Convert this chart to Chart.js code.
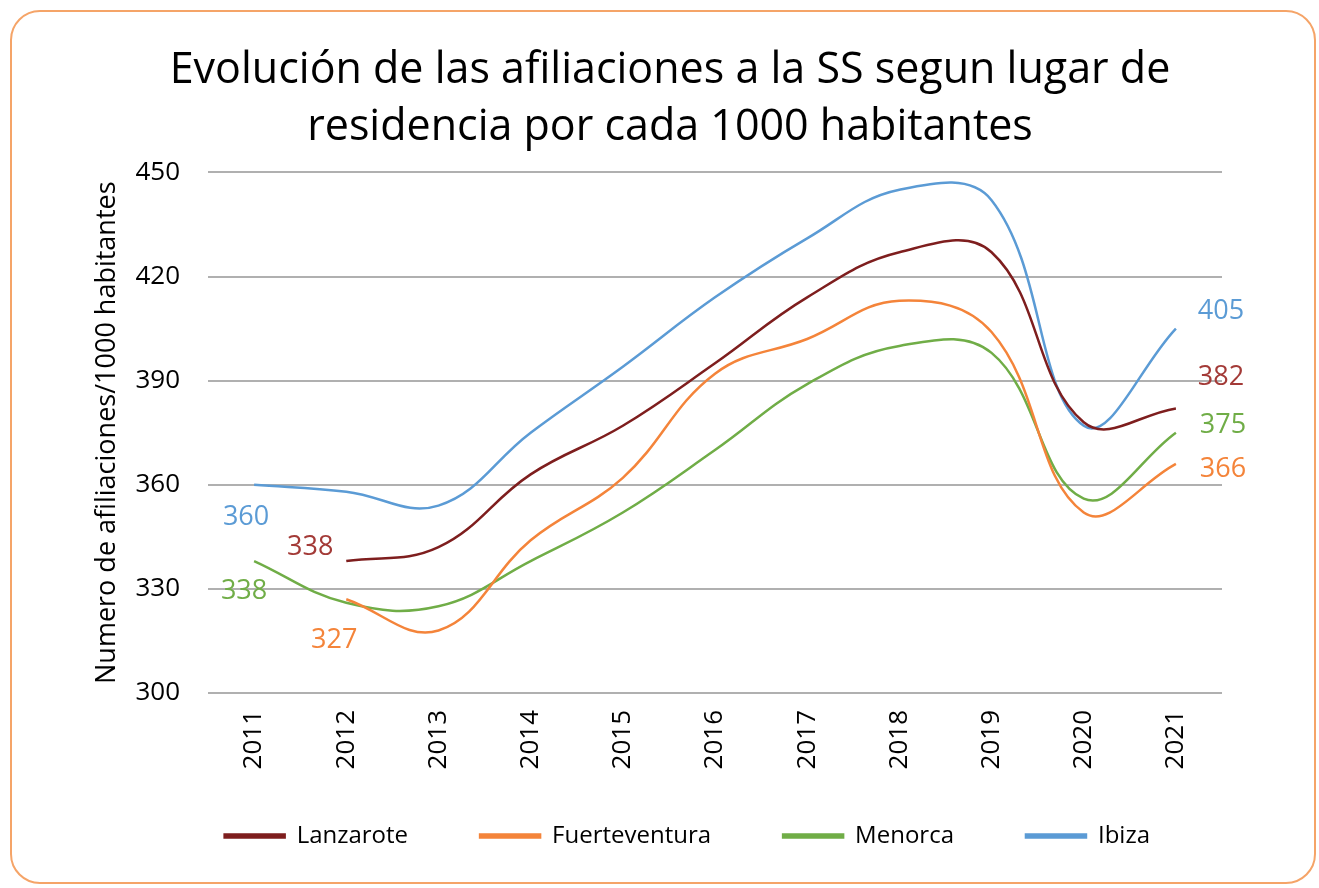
<!DOCTYPE html>
<html>
<head>
<meta charset="utf-8">
<script src="https://cdn.jsdelivr.net/npm/chart.js@4.4.0/dist/chart.umd.min.js"></script>
<style>
    html, body { margin: 0; padding: 0; background: #fff; }
    #frame {
        position: absolute; left: 10px; top: 10px; width: 1306px; height: 874px;
        box-sizing: border-box; border: 2px solid #f5a468; border-radius: 30px;
    }
    #wrap { position: absolute; left: 0; top: 0; width: 1319px; height: 888px; }
</style>
</head>
<body>
<div id="frame"></div>
<div id="wrap"><canvas id="chart" width="1319" height="888"></canvas></div>
<script>
const years = ['2011', '2012', '2013', '2014', '2015', '2016', '2017', '2018', '2019', '2020', '2021'];

const lanzarote = [null, 338, 342, 363, 377, 395, 414, 427, 427, 378, 382];
const fuerteventura = [null, 327, 318, 344, 362, 392, 402, 413, 404, 352, 366];
const menorca = [338, 326, 325, 338, 352, 370, 389, 400, 398, 356, 375];
const ibiza = [360, 358, 354, 375, 394, 414, 431, 445, 442, 377, 405];

const y_ticks = [300, 330, 360, 390, 420, 450];

const FONT = "'Open Sans', 'Noto Sans', sans-serif";

// first / last value labels, drawn next to the line ends
const valueLabels = {
    id: 'valueLabels',
    afterDatasetsDraw(chart, args, opts) {
        const ctx = chart.ctx;
        ctx.save();
        ctx.font = opts.size + 'px ' + FONT;
        ctx.textAlign = 'center';
        ctx.textBaseline = 'middle';
        chart.data.datasets.forEach((ds, i) => {
            const meta = chart.getDatasetMeta(i);
            let idx = [];
            ds.data.forEach((v, j) => { if (v !== null) idx.push(j); });
            const ends = [idx[0], idx[idx.length - 1]];
            ends.forEach((j, k) => {
                const pt = meta.data[j];
                const off = opts.offsets[i][k];
                ctx.fillStyle = opts.colors[i];
                ctx.fillText(String(ds.data[j]), pt.x + off[0], pt.y + off[1]);
            });
        });
        ctx.restore();
    }
};

new Chart(document.getElementById('chart'), {
    type: 'line',
    data: {
        labels: years,
        datasets: [
            { label: 'Lanzarote', data: lanzarote, borderColor: '#7e1e1e', backgroundColor: '#7e1e1e' },
            { label: 'Fuerteventura', data: fuerteventura, borderColor: '#f4843a', backgroundColor: '#f4843a' },
            { label: 'Menorca', data: menorca, borderColor: '#70ad47', backgroundColor: '#70ad47' },
            { label: 'Ibiza', data: ibiza, borderColor: '#5b9bd5', backgroundColor: '#5b9bd5' }
        ]
    },
    options: {
        responsive: false,
        animation: false,
        layout: { padding: { top: 10, left: 118, right: 97, bottom: 30 } },
        elements: {
            line: { borderWidth: 2.5, tension: 0.4, fill: false },
            point: { radius: 0, hoverRadius: 0 }
        },
        scales: {
            x: {
                offset: true,
                grid: { display: false, drawTicks: false },
                border: { display: false },
                ticks: {
                    minRotation: 90, maxRotation: 90, padding: 17,
                    color: '#000', font: { family: FONT, size: 26 }
                },
                afterFit(scale) {
                    scale.height = 59;
                    // labels run below the box into the legend gap, don't clip them
                    scale._computeLabelArea = () => undefined;
                }
            },
            y: {
                min: 300, max: 450,
                afterBuildTicks(scale) { scale.ticks = y_ticks.map(v => ({ value: v })); },
                grid: { color: '#b0b0b0', lineWidth: 2, drawTicks: false },
                border: { display: false },
                ticks: { padding: 28, color: '#000', font: { family: FONT, size: 26 } },
                title: {
                    display: true, text: 'Numero de afiliaciones/1000 habitantes',
                    color: '#000', font: { family: FONT, size: 27 }, padding: { top: -27, bottom: 0 }
                },
                afterFit(scale) { scale.width = 90; }
            }
        },
        plugins: {
            title: {
                display: true,
                text: ['Evolución de las afiliaciones a la SS segun lugar de', 'residencia por cada 1000 habitantes'],
                color: '#000',
                font: { family: FONT, size: 43, weight: 'normal', lineHeight: 1.33 },
                padding: { top: 32, bottom: 16 }
            },
            legend: {
                position: 'bottom',
                align: 'end',
                labels: {
                    boxWidth: 60, boxHeight: 3, padding: 72,
                    color: '#000', font: { family: FONT, size: 24 }
                }
            },
            tooltip: { enabled: false },
            valueLabels: {
                size: 27,
                colors: ['#a33a37', '#f4843a', '#70ad47', '#5b9bd5'],
                offsets: [
                    [[-36, -14], [45, -31]],
                    [[-12, 41], [47, 5]],
                    [[-10, 30], [47, -7]],
                    [[-8, 33], [45, -17]]
                ]
            }
        }
    },
    plugins: [valueLabels]
});
</script>
</body>
</html>
